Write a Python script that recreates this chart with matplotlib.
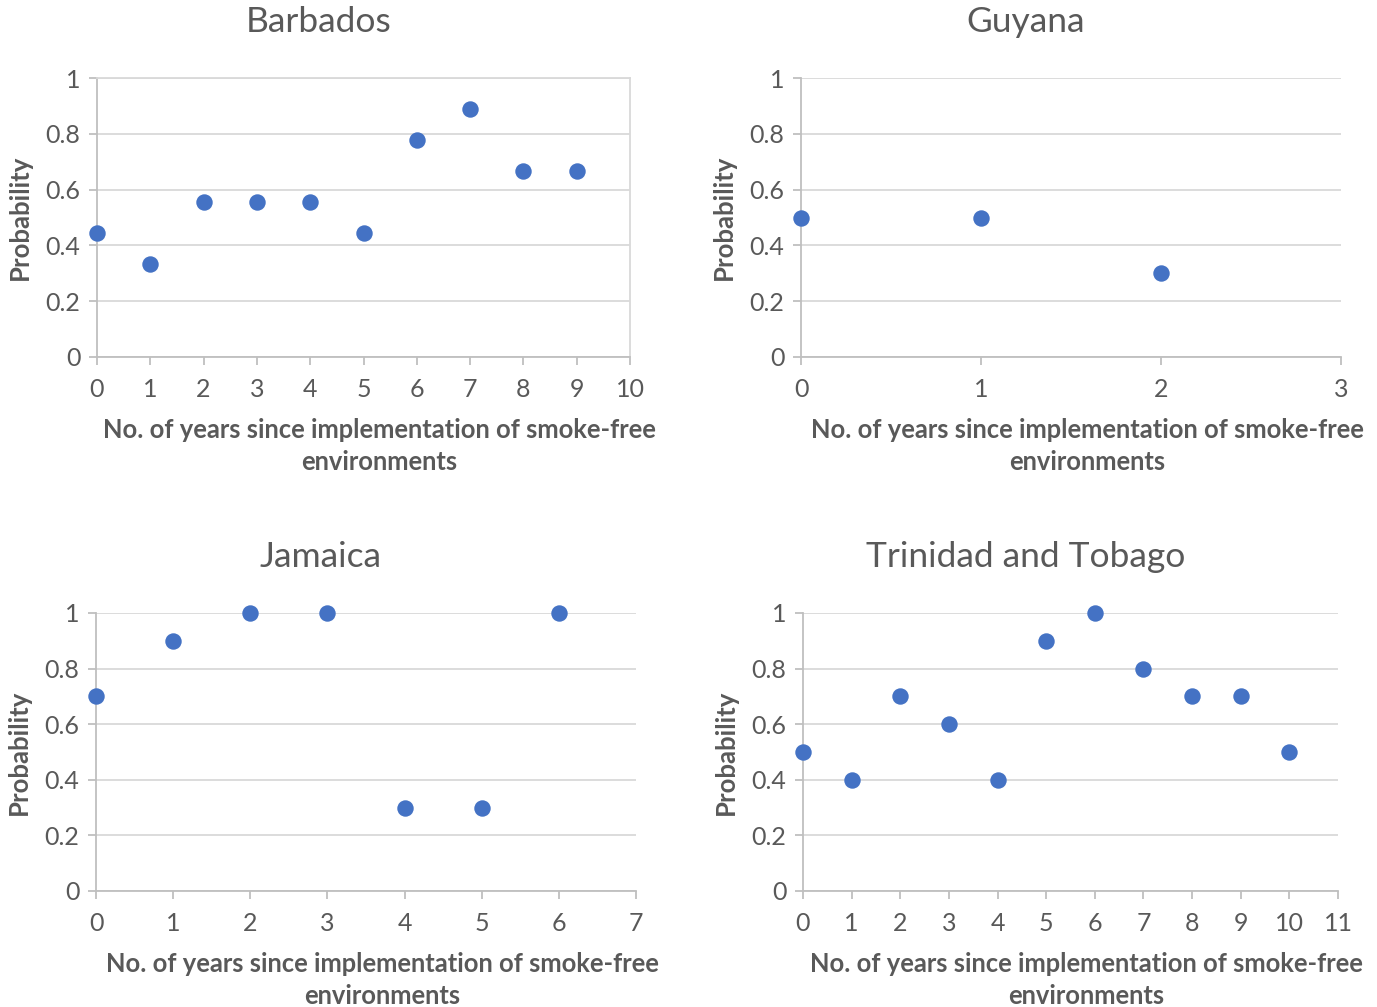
import matplotlib
matplotlib.use("Agg")
import matplotlib.pyplot as plt

plt.rcParams['font.family'] = ['Lato', 'DejaVu Sans']

titles = ["Barbados", "Guyana", "Jamaica", "Trinidad and Tobago"]
barbados_x = [0, 1, 2, 3, 4, 5, 6, 7, 8, 9]
barbados_y = [0.444, 0.333, 0.556, 0.556, 0.556, 0.444, 0.778, 0.889, 0.667, 0.667]
guyana_x = [0, 1, 2]
guyana_y = [0.5, 0.5, 0.3]
jamaica_x = [0, 1, 2, 3, 4, 5, 6]
jamaica_y = [0.7, 0.9, 1.0, 1.0, 0.3, 0.3, 1.0]
tt_x = [0, 1, 2, 3, 4, 5, 6, 7, 8, 9, 10]
tt_y = [0.5, 0.4, 0.7, 0.6, 0.4, 0.9, 1.0, 0.8, 0.7, 0.7, 0.5]
xmax = [10, 3, 7, 11]
yticks = [0, 0.2, 0.4, 0.6, 0.8, 1]
ytick_labels = ["0", "0.2", "0.4", "0.6", "0.8", "1"]

xs = [barbados_x, guyana_x, jamaica_x, tt_x]
ys = [barbados_y, guyana_y, jamaica_y, tt_y]

W, H = 1377, 1007
fig = plt.figure(figsize=(W / 100, H / 100), dpi=100)

# pixel boxes: (x0, x1, y_top(=1), y_bottom(=0))
boxes = [(97, 630, 78, 357), (801, 1341, 78, 357), (96, 636, 613, 891), (803, 1338, 613, 891)]
title_y = [22, 22, 557, 557]
frame = [True, False, False, False]

text_col = "#595959"
grid_col = "#D9D9D9"
axis_col = "#BFBFBF"
dot_col = "#4472C4"

for i in range(4):
    x0, x1, yt, yb = boxes[i]
    ax = fig.add_axes([x0 / W, 1 - yb / H, (x1 - x0) / W, (yb - yt) / H])
    ax.scatter(xs[i], ys[i], s=140, color=dot_col, zorder=3, clip_on=False, linewidths=0)
    ax.set_xlim(0, xmax[i])
    ax.set_ylim(0, 1)
    ax.set_xticks(range(0, xmax[i] + 1))
    ax.set_yticks(yticks)
    ax.set_yticklabels(ytick_labels)
    ax.grid(axis='y', color=grid_col, linewidth=1.3, zorder=0)
    ax.set_axisbelow(True)
    for side in ['left', 'bottom']:
        ax.spines[side].set_color(axis_col)
        ax.spines[side].set_linewidth(1.3)
    for side in ['top', 'right']:
        ax.spines[side].set_visible(frame[i])
        ax.spines[side].set_color(grid_col)
        ax.spines[side].set_linewidth(1.3)
    ax.tick_params(axis='both', colors=axis_col, labelcolor=text_col, labelsize=18,
                   length=6, width=1.3, direction='out')
    ax.tick_params(axis='x', pad=9)
    ax.tick_params(axis='y', pad=6)
    cx = (x0 + x1) / 2
    fig.text((cx - 45) / W, 1 - title_y[i] / H, titles[i], ha='center', va='center',
             fontsize=25.5, color=text_col)
    fig.text((cx + 16) / W, 1 - (yb + 89) / H,
             "No. of years since implementation of smoke-free\nenvironments",
             ha='center', va='center', fontsize=18.4, fontweight='bold', color=text_col,
             linespacing=1.35)
    fig.text((x0 - 77) / W, 1 - ((yt + yb) / 2) / H, "Probability", rotation=90,
             ha='center', va='center', fontsize=18.5, fontweight='bold', color=text_col)

fig.savefig("out.png", dpi=100, facecolor="white")
